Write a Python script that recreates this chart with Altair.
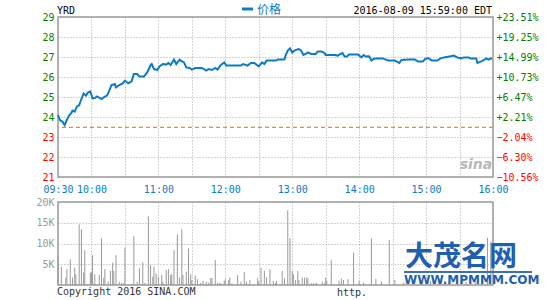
import altair as alt
import pandas as pd

symbol = "YRD"
stamp = "2016-08-09 15:59:00 EDT"
legend_label = "价格"
prev_close = 23.48
copyright_text = "Copyright 2016 SINA.COM"

price_times = [
    "09:30", "09:32", "09:34", "09:36", "09:38", "09:40", "09:42", "09:43", "09:45", "09:47",
    "09:49", "09:51", "09:53", "09:55", "09:57", "09:59", "10:01", "10:03", "10:05", "10:09",
    "10:12", "10:14", "10:16", "10:18", "10:21", "10:22", "10:25", "10:28", "10:30", "10:33",
    "10:36", "10:38", "10:41", "10:43", "10:47", "10:50", "10:53", "10:54", "10:56", "10:59",
    "11:01", "11:04", "11:07", "11:09", "11:11", "11:14", "11:16", "11:19", "11:21", "11:23",
    "11:25", "11:28", "11:30", "11:33", "11:39", "11:43", "11:45", "11:48", "11:51", "11:53",
    "11:56", "11:59", "12:01", "12:04", "12:14", "12:16", "12:20", "12:23", "12:26", "12:30",
    "12:33", "12:35", "12:37", "12:45", "12:47", "12:53", "12:54", "12:56", "12:58", "13:00",
    "13:02", "13:04", "13:06", "13:08", "13:10", "13:12", "13:14", "13:17", "13:21", "13:23",
    "13:26", "13:29", "13:30", "13:38", "13:41", "13:43", "13:45", "13:47", "13:49", "13:51",
    "13:59", "14:02", "14:04", "14:06", "14:09", "14:11", "14:13", "14:15", "14:21", "14:24",
    "14:26", "14:32", "14:35", "14:36", "14:38", "14:44", "14:50", "14:53", "14:57", "14:59",
    "15:02", "15:05", "15:10", "15:13", "15:16", "15:21", "15:25", "15:28", "15:31", "15:34",
    "15:38", "15:40", "15:45", "15:46", "15:49", "15:52", "15:54", "15:56", "15:58", "15:59",
]
price_values = [
    24.10, 23.82, 23.77, 23.60, 23.87, 24.07, 24.20, 24.32, 24.27, 24.53,
    24.60, 24.90, 25.18, 25.07, 25.23, 25.27, 24.93, 24.95, 25.03, 24.90,
    25.02, 25.07, 25.32, 25.60, 25.65, 25.48, 25.60, 25.68, 25.82, 25.68,
    25.78, 26.15, 26.15, 26.02, 26.02, 26.23, 26.60, 26.65, 26.40, 26.35,
    26.53, 26.65, 26.62, 26.70, 26.60, 26.87, 26.65, 26.87, 26.78, 26.73,
    26.48, 26.45, 26.37, 26.45, 26.45, 26.32, 26.40, 26.35, 26.45, 26.37,
    26.60, 26.73, 26.57, 26.57, 26.57, 26.65, 26.57, 26.70, 26.70, 26.53,
    26.73, 26.65, 26.82, 26.82, 26.87, 26.87, 27.07, 27.32, 27.43, 27.23,
    27.32, 27.37, 27.40, 27.32, 27.10, 27.15, 27.23, 27.15, 27.15, 27.28,
    27.28, 27.20, 27.10, 27.10, 27.07, 27.15, 27.20, 27.02, 27.02, 27.12,
    27.12, 26.98, 27.10, 27.02, 27.03, 26.82, 26.90, 26.93, 26.93, 26.87,
    26.82, 26.82, 26.73, 26.70, 26.85, 26.87, 26.87, 26.77, 26.77, 26.90,
    26.95, 26.82, 26.82, 26.93, 26.98, 27.03, 27.07, 26.98, 26.93, 26.98,
    26.98, 26.93, 26.93, 26.70, 26.77, 26.85, 26.93, 26.87, 26.93, 26.90,
]

vol_times = [
    "09:30", "09:33", "09:37", "09:38", "09:41", "09:43", "09:45", "09:46", "09:49", "09:51",
    "09:53", "09:54", "09:56", "09:59", "10:00", "10:01", "10:03", "10:04", "10:07", "10:09",
    "10:11", "10:12", "10:15", "10:17", "10:19", "10:20", "10:22", "10:25", "10:27", "10:29",
    "10:30", "10:33", "10:35", "10:37", "10:38", "10:41", "10:43", "10:45", "10:46", "10:48",
    "10:51", "10:53", "10:55", "10:56", "10:58", "11:00", "11:03", "11:04", "11:07", "11:09",
    "11:11", "11:12", "11:14", "11:17", "11:19", "11:21", "11:22", "11:25", "11:27", "11:29",
    "11:30", "11:33", "11:35", "11:37", "11:38", "11:40", "11:43", "11:45", "11:47", "11:48",
    "11:51", "11:53", "11:55", "11:56", "11:59", "12:00", "12:03", "12:04", "12:06", "12:11",
    "12:14", "12:17", "12:19", "12:21", "12:22", "12:29", "12:30", "12:32", "12:35", "12:37",
    "12:39", "12:40", "12:43", "12:45", "12:46", "12:51", "12:53", "12:56", "12:58", "13:00",
    "13:01", "13:03", "13:05", "13:06", "13:09", "13:11", "13:13", "13:14", "13:17", "13:19",
    "13:21", "13:22", "13:27", "13:29", "13:30", "13:31", "13:35", "13:37", "13:42", "13:44",
    "13:46", "13:50", "13:55", "14:00", "14:04", "14:11", "14:15", "14:20", "14:27", "14:32",
    "14:40", "14:48", "14:56", "15:04", "15:12", "15:20", "15:28", "15:36", "15:44", "15:50",
    "15:55", "15:58",
]
vol_values = [
    7.0, 4.4, 1.8, 3.8, 6.2, 1.8, 4.2, 2.6, 14.6, 13.4,
    3.0, 8.4, 0.2, 3.0, 3.0, 7.2, 2.6, 0.2, 2.4, 11.2,
    1.7, 3.8, 0.8, 3.4, 5.4, 3.4, 7.2, 0.8, 0.5, 0.4,
    9.0, 0.2, 0.2, 0.2, 11.8, 0.8, 4.1, 0.2, 5.5, 0.5,
    16.6, 4.8, 2.0, 4.4, 2.8, 2.0, 2.4, 0.8, 3.6, 3.8,
    2.4, 2.6, 8.4, 12.2, 1.8, 13.4, 2.4, 3.2, 8.8, 2.6,
    1.2, 2.2, 1.4, 0.2, 0.5, 1.0, 0.7, 0.5, 1.7, 1.7,
    6.0, 0.5, 0.5, 0.4, 1.0, 1.4, 1.2, 1.8, 0.4, 2.4,
    0.8, 3.1, 0.8, 0.2, 1.2, 1.6, 0.8, 4.2, 3.4, 1.9,
    0.2, 3.8, 1.0, 0.5, 1.0, 3.4, 1.6, 18.0, 11.4, 3.4,
    2.6, 1.2, 3.4, 1.2, 1.8, 1.8, 1.8, 1.6, 0.5, 0.4,
    0.4, 0.5, 0.8, 0.4, 1.8, 1.0, 6.0, 0.2, 1.0, 1.6,
    1.2, 1.4, 7.8, 1.0, 0.6, 11.2, 1.5, 0.8, 10.8, 1.2,
    0.6, 1.4, 0.8, 1.0, 1.6, 0.6, 1.2, 0.8, 1.4, 2.0,
    11.4, 10.4,
]

price_ticks = [21, 22, 23, 24, 25, 26, 27, 28, 29]
vol_ticks = [5, 10, 15, 20]
grid_minutes = [0, 30, 60, 90, 120, 150, 180, 210, 240, 270, 300, 330, 360, 390]
label_minutes = [0, 30, 90, 150, 210, 270, 330, 390]
label_texts = ["09:30", "10:00", "11:00", "12:00", "13:00", "14:00", "15:00", "16:00"]

MONO = "DejaVu Sans Mono"
BLUE = "#0b7ac8"
GREEN = "#008000"
RED = "#ff0000"
GRID = "#a8a8a8"
W, H1, H2 = 435, 160, 83


def to_min(t):
    h, m = t.split(":")
    return int(h) * 60 + int(m) - 570


price_df = pd.DataFrame({"t": [to_min(t) for t in price_times], "p": price_values})
vol_df = pd.DataFrame({"t": [to_min(t) for t in vol_times], "v": vol_values})
ref_df = pd.DataFrame({"v": [prev_close]})
one = pd.DataFrame({"a": [0]})

x_label_expr = "".join(
    f"datum.value == {m} ? '{s}' : " for m, s in zip(label_minutes, label_texts)
) + "''"

x_scale = alt.Scale(domain=[0, 390], nice=False, zero=False)
y_scale = alt.Scale(domain=[21, 29], nice=False, zero=False)

x_top = alt.X(
    "t:Q", scale=x_scale,
    axis=alt.Axis(values=grid_minutes, labelExpr=x_label_expr, grid=True, gridColor=GRID,
                  gridDash=[1, 2], ticks=False, domain=False, labelColor=BLUE, labelFont=MONO,
                  labelFontSize=10, labelPadding=7, labelFlush=False, labelOverlap=False,
                  title=None),
)

label_color = {"condition": {"test": f"datum.value >= {prev_close}", "value": GREEN}, "value": RED}

line = alt.Chart(price_df).mark_line(color=BLUE, strokeWidth=2).encode(
    x=x_top,
    y=alt.Y("p:Q", scale=y_scale,
            axis=alt.Axis(values=price_ticks, grid=True, gridColor=GRID, gridDash=[1, 2], ticks=False,
                          domain=False, labelColor=label_color, labelFont=MONO, labelFontSize=10,
                          labelPadding=4, labelOverlap=False, title=None)),
)

right_axis = alt.Chart(price_df).mark_point(opacity=0).encode(
    y=alt.Y("p:Q", scale=y_scale,
            axis=alt.Axis(orient="right", values=price_ticks, grid=False, ticks=False, domain=False,
                          labelExpr=f"format((datum.value / {prev_close} - 1) * 100, '+.2f') + '%'",
                          labelColor=label_color, labelFont=MONO, labelFontSize=10,
                          labelPadding=3, labelOverlap=False, title=None)),
)

ref = alt.Chart(ref_df).mark_rule(color="#ff8c00", strokeDash=[4, 3], strokeWidth=1.3).encode(
    y=alt.Y("v:Q", scale=y_scale, axis=None)
)

title_txt = alt.Chart(one).mark_text(align="left", baseline="middle", font=MONO, fontSize=10,
                                     color="#000").encode(
    x=alt.value(-1), y=alt.value(-6), text=alt.value(symbol))
stamp_txt = alt.Chart(one).mark_text(align="right", baseline="middle", font=MONO, fontSize=10,
                                     color="#000").encode(
    x=alt.value(434), y=alt.value(-6), text=alt.value(stamp))
legend_sym = alt.Chart(one).mark_rule(color=BLUE, strokeWidth=3).encode(
    x=alt.value(184), x2=alt.value(195), y=alt.value(-8))
legend_txt = alt.Chart(one).mark_text(align="left", baseline="middle", font="Noto Sans CJK SC",
                                      fontSize=12, color=BLUE).encode(
    x=alt.value(199), y=alt.value(-7), text=alt.value(legend_label))
sina_txt = alt.Chart(one).mark_text(align="center", baseline="middle", font="DejaVu Sans",
                                    fontSize=14, fontWeight="bold", fontStyle="italic",
                                    color="#b8b8b8").encode(
    x=alt.value(418), y=alt.value(148), text=alt.value("sina"))

top = alt.layer(line, right_axis, ref, title_txt, stamp_txt, legend_sym, legend_txt, sina_txt).resolve_scale(
    y="independent").properties(width=W, height=H1)

bars = alt.Chart(vol_df).mark_rule(color="#999999", strokeWidth=1).encode(
    x=alt.X("t:Q", scale=x_scale,
            axis=alt.Axis(values=grid_minutes, labels=False, ticks=False, domain=False, grid=True,
                          gridColor=GRID, gridDash=[1, 2], title=None)),
    y=alt.Y("v:Q", scale=alt.Scale(domain=[0, 20], nice=False),
            axis=alt.Axis(values=vol_ticks, labelExpr="datum.value + 'K'", labelColor="#999999",
                          labelFont=MONO, labelFontSize=10, labelPadding=4, grid=True, gridColor=GRID,
                          gridDash=[1, 2], ticks=False, domain=False, title=None)),
    y2=alt.datum(0),
)

copy_txt = alt.Chart(one).mark_text(align="left", baseline="middle", font=MONO, fontSize=10,
                                    color="#333333").encode(
    x=alt.value(-1), y=alt.value(90), text=alt.value(copyright_text))
http_txt = alt.Chart(one).mark_text(align="left", baseline="middle", font=MONO, fontSize=10,
                                    color="#333333").encode(
    x=alt.value(279), y=alt.value(91), text=alt.value("http."))
wm_txt = alt.Chart(one).mark_text(align="left", baseline="middle", font="Noto Sans CJK SC",
                                  fontSize=28, fontWeight="bold", color="#1f5fb0").encode(
    x=alt.value(347), y=alt.value(56), text=alt.value("大茂名网"))
wm_line = alt.Chart(one).mark_rule(color="#3a6fc0", strokeWidth=2).encode(
    x=alt.value(346), x2=alt.value(474), y=alt.value(70))
wm_url = alt.Chart(one).mark_text(align="left", baseline="middle", font="DejaVu Sans",
                                  fontSize=12, fontWeight="bold", color="#1f5fb0").encode(
    x=alt.value(346), y=alt.value(78), text=alt.value("WWW.MPMMM.COM"))

bottom = alt.layer(bars, copy_txt, http_txt, wm_txt, wm_line, wm_url).properties(width=W, height=H2)

chart = alt.vconcat(top, bottom, spacing=1).properties(
    padding={"left": 35, "top": 3, "right": 0, "bottom": 0},
    background="white",
).configure_view(stroke="#999999", strokeWidth=1.5)

chart.save("out.html", embed_options={"renderer": "svg", "actions": False})
